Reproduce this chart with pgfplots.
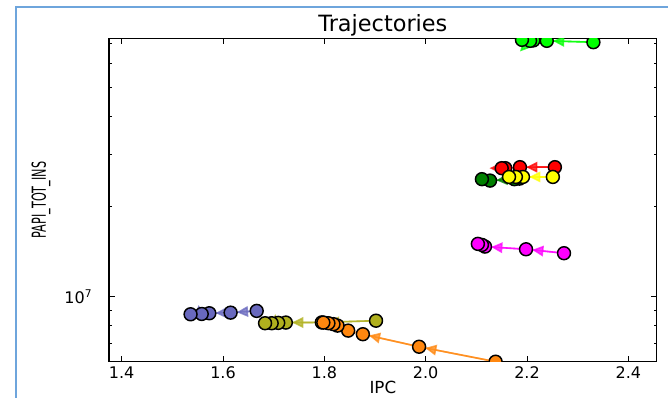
\documentclass[border=0pt]{standalone}
\usepackage{fontspec}
\setmainfont{DejaVu Sans}
\usepackage{graphicx}
\usepackage{pgfplots}
\usepackage{pgfplotstable}
\pgfplotsset{compat=1.18}
\usetikzlibrary{arrows.meta}

\definecolor{clime}{RGB}{0,255,0}
\definecolor{cred}{RGB}{255,0,0}
\definecolor{cyellow}{RGB}{255,255,0}
\definecolor{cdgreen}{RGB}{0,128,0}
\definecolor{cmagenta}{RGB}{255,0,255}
\definecolor{cblue}{RGB}{105,105,190}
\definecolor{colive}{RGB}{176,176,30}
\definecolor{corange}{RGB}{255,135,15}
\definecolor{cframe}{RGB}{110,165,220}

\pgfplotstableread{
x y
2.331 7.09e7
2.239 7.165e7
2.2125 7.19e7
2.206 7.165e7
2.190 7.22e7
}\tlime
\pgfplotstableread{
x y
2.255 2.709e7
2.186 2.709e7
2.157 2.688e7
2.150 2.688e7
}\tred
\pgfplotstableread{
x y
2.185 2.48e7
2.175 2.47e7
2.127 2.443e7
2.111 2.47e7
}\tdgreen
\pgfplotstableread{
x y
2.251 2.513e7
2.192 2.513e7
2.178 2.513e7
2.1645 2.513e7
}\tyellow
\pgfplotstableread{
x y
2.273 1.397e7
2.198 1.440e7
2.117 1.470e7
2.111 1.489e7
2.103 1.501e7
}\tmagenta
\pgfplotstableread{
x y
1.6665 8.96e6
1.615 8.84e6
1.573 8.80e6
1.558 8.75e6
1.536 8.73e6
}\tblue
\pgfplotstableread{
x y
1.902 8.31e6
1.795 8.20e6
1.724 8.19e6
1.709 8.17e6
1.696 8.15e6
1.683 8.15e6
}\tolive
\pgfplotstableread{
x y
2.138 6.06e6
1.987 6.80e6
1.876 7.49e6
1.847 7.70e6
1.826 8.00e6
1.818 8.09e6
1.808 8.15e6
1.798 8.19e6
}\torange

\pgfplotsset{
  trajline/.style={#1, line width=1.2pt, opacity=0.7},
  trajarrow/.style={#1, line width=1.2pt, opacity=0.75, -{Triangle[length=8.5pt,width=8pt]}, shorten >=4.6pt},
  tiparrow/.style={#1, line width=1.2pt, opacity=0.75, -{Triangle[length=8.5pt,width=8pt]}},
  trajmarks/.style={only marks, mark=*, mark size=4.85pt, mark options={fill=#1, draw=black, line width=1.1pt}},
}

\begin{document}
\begin{tikzpicture}
\useasboundingbox (0,0) rectangle (501pt,298.5pt);
\draw[cframe, line width=1.3pt] (12pt,0) -- (12pt,293.25pt) -- (501pt,293.25pt);
\begin{axis}[
  at={(81.75pt,27.2pt)}, anchor=south west,
  scale only axis, width=410.8pt, height=242.6pt,
  xmin=1.375, xmax=2.456,
  ymode=log, ymin=6.06e6, ymax=7.31e7,
  xtick={1.4,1.6,1.8,2.0,2.2,2.4},
  xticklabel style={/pgf/number format/fixed, /pgf/number format/fixed zerofill, /pgf/number format/precision=1},
  /pgf/number format/assume math mode=true,
  ytick={1e7}, yticklabels={10\textsuperscript{7}},
  yticklabel style={xshift=-9pt},
  minor ytick={6e6,7e6,8e6,9e6,2e7,3e7,4e7,5e7,6e7,7e7},
  tick align=inside, major tick length=4.5pt, minor tick length=2.3pt,
  every tick/.style={black, line width=0.6pt},
  axis line style={black, line width=0.9pt},
  tick label style={font=\fontsize{12}{14}\selectfont},
  title=Trajectories,
  title style={font=\fontsize{16.8}{18}\selectfont, at={(0.5,1)}, anchor=base, yshift=-1.2pt},
  xlabel=IPC,
  xlabel style={font=\fontsize{12.5}{14}\selectfont, at={(0.5,0)}, anchor=base, yshift=-24pt},
  ylabel={\scalebox{0.58}[1]{\fontsize{14.5}{16}\selectfont PAPI\_TOT\_INS}},
  ylabel style={at={(0,0.5)}, anchor=center, yshift=51pt},
  clip marker paths=true,
]
% lime
\addplot[trajline=clime] table {\tlime};
\addplot[trajarrow=clime] coordinates {(2.331,7.09e7) (2.239,7.165e7)};
\addplot[tiparrow=clime] coordinates {(2.206,7.165e7) (2.186,6.6e7)};
% red
\addplot[trajline=cred] table {\tred};
\addplot[trajarrow=cred] coordinates {(2.255,2.709e7) (2.186,2.709e7)};
\addplot[tiparrow=cred] coordinates {(2.150,2.688e7) (2.126,2.688e7)};
% dark green
\addplot[trajline=cdgreen] table {\tdgreen};
\addplot[trajarrow=cdgreen] coordinates {(2.175,2.47e7) (2.127,2.443e7)};
% yellow
\addplot[trajline=cyellow] table {\tyellow};
\addplot[trajarrow=cyellow] coordinates {(2.251,2.513e7) (2.192,2.513e7)};
% magenta
\addplot[trajline=cmagenta] table {\tmagenta};
\addplot[trajarrow=cmagenta] coordinates {(2.273,1.397e7) (2.198,1.440e7)};
\addplot[trajarrow=cmagenta] coordinates {(2.198,1.440e7) (2.117,1.470e7)};
\addplot[tiparrow=cmagenta] coordinates {(2.103,1.501e7) (2.093,1.51e7)};
% blue
\addplot[trajline=cblue] table {\tblue};
\addplot[trajarrow=cblue] coordinates {(1.6665,8.96e6) (1.615,8.84e6)};
\addplot[trajarrow=cblue] coordinates {(1.615,8.84e6) (1.573,8.80e6)};
\addplot[tiparrow=cblue] coordinates {(1.553,8.75e6) (1.552,9.38e6)};
% olive
\addplot[trajline=colive] table {\tolive};
\addplot[trajarrow=colive] coordinates {(1.902,8.31e6) (1.795,8.20e6)};
\addplot[trajarrow=colive] coordinates {(1.795,8.20e6) (1.724,8.19e6)};
\addplot[tiparrow=colive] coordinates {(1.704,8.17e6) (1.703,8.75e6)};
% orange
\addplot[trajline=corange] table {\torange};
\addplot[trajarrow=corange] coordinates {(2.138,6.06e6) (1.987,6.80e6)};
\addplot[trajarrow=corange] coordinates {(1.987,6.80e6) (1.876,7.49e6)};
% markers
\addplot[trajmarks=clime] table {\tlime};
\addplot[trajmarks=cred] table {\tred};
\addplot[trajmarks=cdgreen] table {\tdgreen};
\addplot[trajmarks=cyellow] table {\tyellow};
\addplot[trajmarks=cmagenta] table {\tmagenta};
\addplot[trajmarks=cblue] table {\tblue};
\addplot[trajmarks=colive] table {\tolive};
\addplot[trajmarks=corange] table {\torange};
\end{axis}
\end{tikzpicture}
\end{document}
